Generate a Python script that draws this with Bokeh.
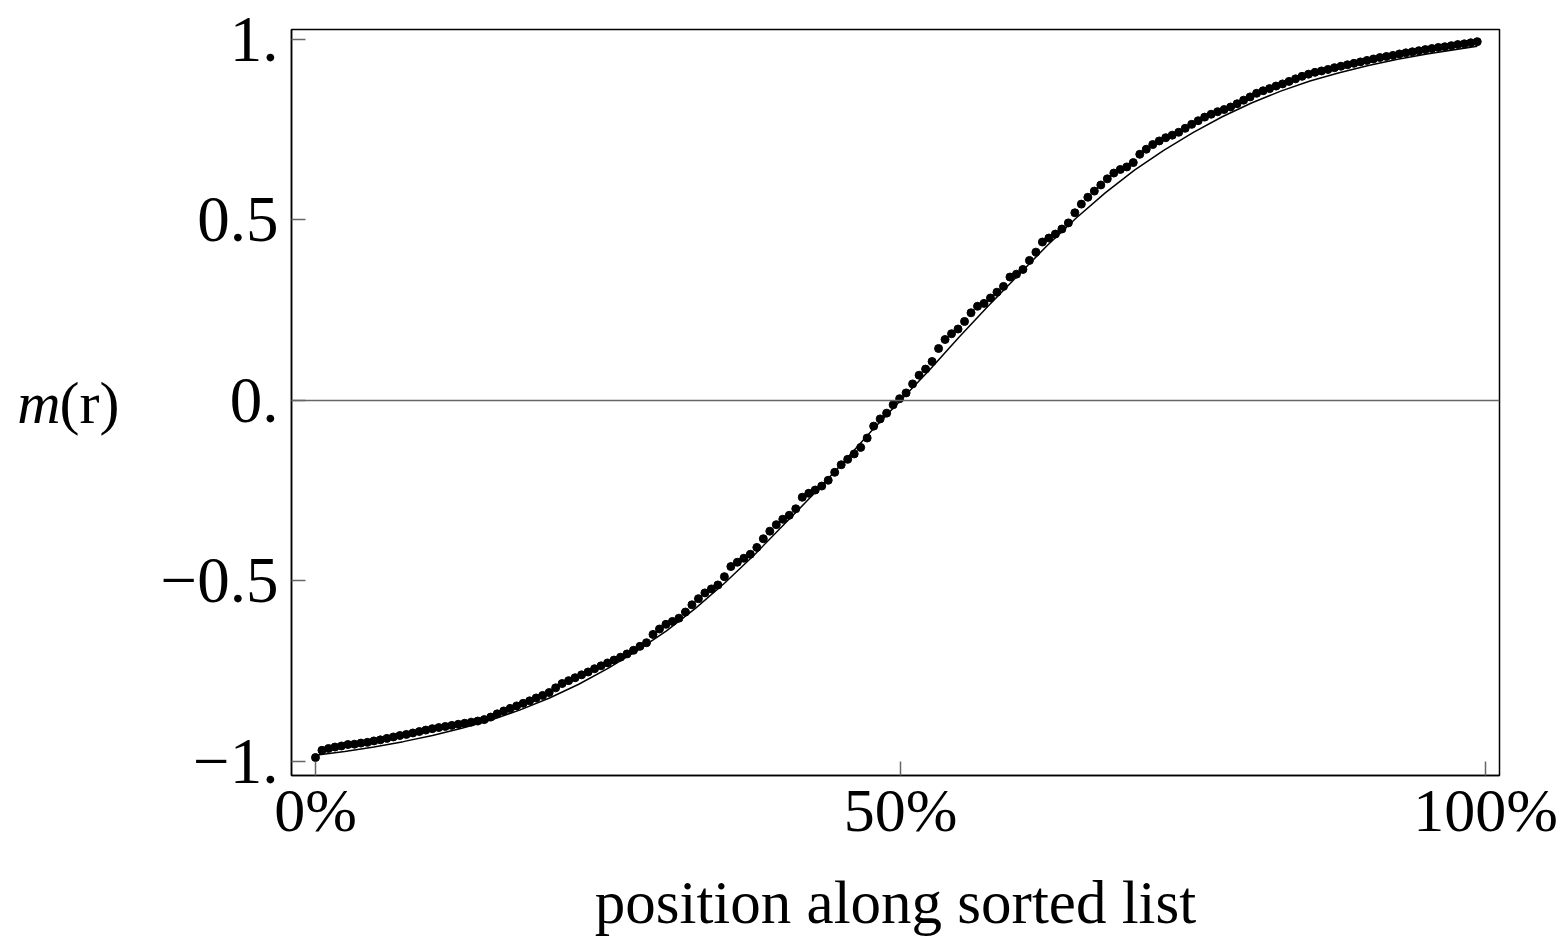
import numpy as np
from bokeh.plotting import figure
from bokeh.models import Range1d, FixedTicker, Span, LinearAxis
from bokeh.embed import file_html
from bokeh.resources import INLINE

# Sorted magnetisation values m(r), one per entry of the sorted list
m_sorted = [
    -0.989, -0.969, -0.964, -0.960, -0.957, -0.953, -0.952, -0.949, -0.947, -0.943,
    -0.940, -0.936, -0.932, -0.928, -0.925, -0.921, -0.917, -0.913, -0.909, -0.906,
    -0.903, -0.900, -0.897, -0.894, -0.891, -0.888, -0.884, -0.877, -0.868, -0.860,
    -0.853, -0.846, -0.839, -0.832, -0.824, -0.817, -0.809, -0.796, -0.784, -0.776,
    -0.768, -0.760, -0.752, -0.743, -0.735, -0.727, -0.719, -0.711, -0.702, -0.692,
    -0.681, -0.671, -0.648, -0.633, -0.620, -0.612, -0.603, -0.586, -0.566, -0.549,
    -0.533, -0.522, -0.511, -0.488, -0.460, -0.448, -0.437, -0.426, -0.407, -0.383,
    -0.362, -0.344, -0.329, -0.318, -0.300, -0.268, -0.257, -0.248, -0.237, -0.221,
    -0.199, -0.178, -0.163, -0.148, -0.130, -0.104, -0.071, -0.051, -0.035, -0.012,
    0.005, 0.021, 0.046, 0.070, 0.087, 0.108, 0.144, 0.169, 0.185, 0.198,
    0.219, 0.243, 0.261, 0.269, 0.284, 0.300, 0.316, 0.342, 0.350, 0.363,
    0.388, 0.411, 0.439, 0.450, 0.461, 0.475, 0.492, 0.520, 0.544, 0.563,
    0.580, 0.597, 0.614, 0.630, 0.640, 0.647, 0.659, 0.682, 0.696, 0.709,
    0.719, 0.728, 0.735, 0.743, 0.754, 0.765, 0.775, 0.785, 0.793, 0.800,
    0.806, 0.813, 0.822, 0.832, 0.841, 0.851, 0.858, 0.864, 0.871, 0.877,
    0.884, 0.891, 0.898, 0.904, 0.909, 0.913, 0.917, 0.922, 0.926, 0.930,
    0.934, 0.938, 0.942, 0.946, 0.950, 0.953, 0.956, 0.960, 0.963, 0.966,
    0.969, 0.972, 0.975, 0.978, 0.980, 0.983, 0.986, 0.988, 0.991, 0.994,
]
# Relative position (%) of each entry along the sorted list
position = np.linspace(0.0, 99.3, len(m_sorted))

# Smooth reference curve
curve_pos = [0, 2.5, 5, 7.5, 10, 12.5, 15, 17.5, 20, 22.5, 25, 27.5, 30, 32.5, 35,
             37.5, 40, 42.5, 45, 47.5, 50, 52.5, 55, 57.5, 60, 62.5, 65, 67.5, 70,
             72.5, 75, 77.5, 80, 82.5, 85, 87.5, 90, 92.5, 95, 97.5, 99.3]
curve_m = [-0.983, -0.972, -0.960, -0.945, -0.928, -0.908, -0.885, -0.857, -0.824,
           -0.786, -0.742, -0.693, -0.638, -0.575, -0.505, -0.428, -0.345, -0.262,
           -0.175, -0.085, 0.000, 0.085, 0.175, 0.262, 0.345, 0.428, 0.505, 0.575,
           0.638, 0.693, 0.742, 0.786, 0.824, 0.857, 0.885, 0.908, 0.928, 0.945,
           0.960, 0.972, 0.981]

x_ticks = [0, 50, 100]
x_tick_labels = ["0%", "50%", "100%"]
y_ticks = [-1, -0.5, 0, 0.5, 1]
y_tick_labels = ["\u22121.", "\u22120.5", "0.", "0.5", "1."]

FONT = "Liberation Serif"

p = figure(width=1561, height=940, output_backend="svg", toolbar_location=None,
           x_range=Range1d(-2.05, 101.2), y_range=Range1d(-1.0388, 1.0277),
           min_border_left=291, min_border_right=62, min_border_top=29,
           min_border_bottom=165)
p.background_fill_color = "white"
p.border_fill_color = "white"
p.outline_line_color = "black"
p.outline_line_width = 1.5
p.xgrid.visible = False
p.ygrid.visible = False

for ax in (p.xaxis[0], p.yaxis[0]):
    ax.axis_line_color = "black"
    ax.axis_line_width = 1.5
    ax.major_tick_in = 14
    ax.major_tick_out = 0
    ax.major_tick_line_color = "#666666"
    ax.major_tick_line_width = 1.5
    ax.minor_tick_line_color = None
    ax.major_label_text_font = FONT
    ax.major_label_text_color = "black"

p.xaxis.ticker = FixedTicker(ticks=x_ticks)
p.xaxis.major_label_overrides = dict(zip(x_ticks, x_tick_labels))
p.xaxis.major_label_text_font_size = "62px"
p.xaxis.major_label_standoff = 0
p.xaxis.axis_label = "position along sorted list"
p.xaxis.axis_label_text_font = FONT
p.xaxis.axis_label_text_font_style = "normal"
p.xaxis.axis_label_text_font_size = "61px"
p.xaxis.axis_label_text_color = "black"
p.xaxis.axis_label_standoff = 22

p.yaxis.ticker = FixedTicker(ticks=y_ticks)
p.yaxis.major_label_overrides = dict(zip(y_ticks, y_tick_labels))
p.yaxis.major_label_text_font_size = "65px"
p.yaxis.major_label_standoff = 13


def title_axis(text, style, standoff):
    """A tick-less left axis that only carries a horizontal title."""
    a = LinearAxis(ticker=FixedTicker(ticks=[]), axis_line_color=None,
                   major_tick_line_color=None, minor_tick_line_color=None,
                   major_label_text_font_size="0px",
                   axis_label=text, axis_label_text_font=FONT,
                   axis_label_text_font_style=style,
                   axis_label_text_font_size="60px",
                   axis_label_text_color="black",
                   axis_label_standoff=standoff,
                   axis_label_orientation="horizontal")
    p.add_layout(a, "left")
    return a


title_axis("(r)", "normal", 38)
title_axis("m", "italic", -4)

# zero line
p.add_layout(Span(location=0, dimension="width", line_color="#666666", line_width=1.3))

p.line(curve_pos, curve_m, line_color="black", line_width=1.5)
p.scatter(position, m_sorted, size=8, fill_color="black", line_color="black")

open("out.html", "w").write(file_html(p, INLINE))
